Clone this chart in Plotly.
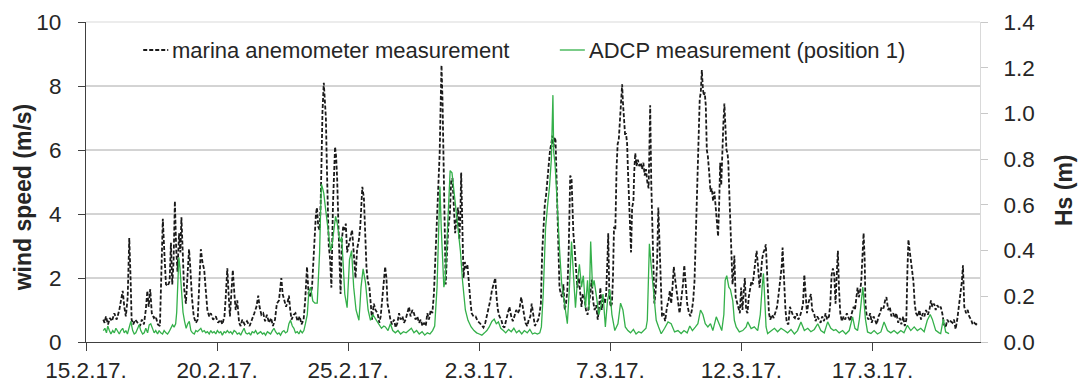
import pandas as pd
import plotly.graph_objects as go

# ---------------- data ----------------
start_date = "2017-02-15"          # day 0 of the time axis
x_end_day = 34.1                   # right end of the time axis (days after start)
tick_days = [0, 5, 10, 15, 20, 25, 30]
tick_labels = ["15.2.17.", "20.2.17.", "25.2.17.", "2.3.17.", "7.3.17.", "12.3.17.", "17.3.17."]
wind_ticks = [0, 2, 4, 6, 8, 10]
hs_ticks = [0.0, 0.2, 0.4, 0.6, 0.8, 1.0, 1.2, 1.4]

# marina anemometer: time (days after 15.2.17.) and wind speed (m/s)
wind_day = [
    0.66, 0.71, 0.76, 0.84, 0.91, 0.99, 1.08, 1.17, 1.27, 1.33, 1.40, 1.46, 1.52, 1.59, 1.65, 1.70, 1.74, 1.80, 1.88, 1.97,
    2.06, 2.13, 2.21, 2.28, 2.34, 2.39, 2.45, 2.51, 2.59, 2.66, 2.74, 2.82, 2.87, 2.93, 3.00, 3.05, 3.12, 3.19, 3.24, 3.29,
    3.34, 3.39, 3.44, 3.49, 3.55, 3.60, 3.64, 3.69, 3.74, 3.81, 3.87, 3.93, 3.98, 4.04, 4.11, 4.19, 4.26, 4.31, 4.38, 4.44,
    4.51, 4.57, 4.63, 4.70, 4.76, 4.85, 4.95, 5.04, 5.13, 5.20, 5.28, 5.33, 5.39, 5.44, 5.49, 5.55, 5.60, 5.66,
    5.71, 5.77, 5.84, 5.90, 5.96, 6.05, 6.14, 6.24, 6.34, 6.42, 6.50, 6.57, 6.62, 6.69, 6.76, 6.83, 6.90, 6.98, 7.06, 7.13,
    7.21, 7.28, 7.36, 7.41, 7.45, 7.50, 7.56, 7.63, 7.69, 7.74, 7.79, 7.84, 7.92, 7.99, 8.07, 8.15, 8.22, 8.30, 8.36, 8.43,
    8.49, 8.55, 8.62, 8.67, 8.72, 8.77, 8.81, 8.86, 8.91, 8.95, 8.98, 9.02, 9.07, 9.11, 9.15, 9.19, 9.23, 9.26, 9.31, 9.36,
    9.42, 9.47, 9.50, 9.54, 9.58, 9.63, 9.67, 9.71, 9.76, 9.81, 9.86, 9.91, 9.96, 10.02, 10.09, 10.15, 10.21, 10.28, 10.34, 10.41,
    10.46, 10.51, 10.54, 10.60, 10.65, 10.70, 10.75, 10.81, 10.86, 10.91, 10.98, 11.04, 11.12, 11.19, 11.24, 11.31, 11.36, 11.41,
    11.46, 11.50, 11.55, 11.61, 11.67, 11.75, 11.81, 11.88, 11.94, 12.00, 12.07, 12.13, 12.19, 12.26, 12.32, 12.38, 12.45, 12.51, 12.57, 12.64,
    12.70, 12.77, 12.83, 12.89, 12.96, 13.02, 13.08, 13.15, 13.21, 13.27, 13.32, 13.36, 13.41, 13.45, 13.49, 13.53, 13.56, 13.60, 13.64, 13.68,
    13.72, 13.77, 13.82, 13.88, 13.93, 13.98, 14.03, 14.08, 14.14, 14.19, 14.24, 14.28, 14.31, 14.35, 14.40, 14.45, 14.50, 14.55, 14.61, 14.66,
    14.71, 14.78, 14.86, 14.94, 15.01, 15.09, 15.16, 15.23, 15.29, 15.35, 15.42, 15.48, 15.54, 15.61, 15.66, 15.71, 15.77, 15.84, 15.90, 15.96,
    16.03, 16.09, 16.15, 16.22, 16.28, 16.34, 16.41, 16.47, 16.53, 16.60, 16.65, 16.70, 16.76, 16.83, 16.89, 16.95, 17.00, 17.07,
    17.12, 17.18, 17.25, 17.30, 17.35, 17.40, 17.45, 17.50, 17.55, 17.60, 17.65, 17.70, 17.75, 17.79, 17.83, 17.87, 17.91, 17.94, 17.98, 18.02,
    18.06, 18.11, 18.16, 18.21, 18.26, 18.31, 18.36, 18.41, 18.47, 18.52, 18.55, 18.59, 18.64, 18.69, 18.74, 18.80, 18.85, 18.90, 18.95, 19.01,
    19.07, 19.13, 19.19, 19.24, 19.29, 19.34, 19.40, 19.46, 19.52, 19.57, 19.62, 19.67, 19.72, 19.79, 19.84, 19.89, 19.92, 19.96, 20.01, 20.06,
    20.10, 20.14, 20.19, 20.24, 20.28, 20.32, 20.37, 20.41, 20.45, 20.48, 20.52, 20.56, 20.60, 20.64, 20.67, 20.71, 20.75, 20.79, 20.83, 20.88,
    20.91, 20.95, 21.00, 21.05, 21.10, 21.16, 21.21, 21.26, 21.31, 21.36, 21.41, 21.46, 21.50, 21.52, 21.56, 21.60, 21.64, 21.68, 21.73, 21.78,
    21.83, 21.87, 21.92, 21.97, 22.03, 22.09, 22.16, 22.22, 22.27, 22.32, 22.37, 22.42, 22.48, 22.53, 22.58, 22.64, 22.70, 22.77, 22.82,
    22.88, 22.93, 23.00, 23.06, 23.11, 23.16, 23.21, 23.26, 23.30, 23.34, 23.38, 23.41, 23.45, 23.49, 23.53, 23.57, 23.60, 23.64, 23.68, 23.72,
    23.77, 23.82, 23.87, 23.92, 23.97, 24.02, 24.07, 24.11, 24.15, 24.19, 24.23, 24.28, 24.31, 24.35, 24.39, 24.43, 24.47, 24.50, 24.54, 24.58,
    24.62, 24.66, 24.70, 24.73, 24.78, 24.84, 24.89, 24.94, 24.99, 25.04, 25.09, 25.13, 25.18, 25.23, 25.28, 25.33, 25.38, 25.43, 25.48, 25.53,
    25.58, 25.63, 25.69, 25.74, 25.79, 25.84, 25.89, 25.93, 25.96, 26.00, 26.05, 26.10, 26.17, 26.23, 26.29, 26.36, 26.42, 26.48, 26.54, 26.57,
    26.62, 26.68, 26.73, 26.79, 26.85, 26.92, 26.98, 27.04, 27.11, 27.17, 27.23, 27.30, 27.35, 27.40, 27.45, 27.50, 27.55, 27.60, 27.65, 27.70,
    27.77, 27.83, 27.89, 27.96, 28.02, 28.08, 28.15, 28.21, 28.27, 28.34, 28.39, 28.44, 28.49,
    28.54, 28.59, 28.64, 28.68, 28.72, 28.77, 28.83, 28.90, 28.96, 29.02, 29.09, 29.15, 29.21, 29.28, 29.33, 29.38, 29.43, 29.48, 29.53, 29.57,
    29.61, 29.66, 29.70, 29.73, 29.78, 29.85, 29.91, 29.97, 30.04, 30.10, 30.16, 30.23, 30.29, 30.35, 30.42, 30.48, 30.53, 30.60, 30.66, 30.72,
    30.79, 30.85, 30.91, 30.98, 31.04, 31.10, 31.17, 31.23, 31.29, 31.33, 31.37, 31.41, 31.46, 31.51, 31.56, 31.61, 31.66, 31.73, 31.79, 31.85,
    31.92, 31.98, 32.04, 32.11, 32.17, 32.23, 32.28, 32.35, 32.41, 32.47, 32.54, 32.60, 32.66, 32.73, 32.79, 32.85, 32.92, 32.98, 33.05, 33.11,
    33.17, 33.24, 33.30, 33.36, 33.41, 33.45, 33.50, 33.57, 33.63, 33.69, 33.76, 33.82, 33.88, 33.95, 34.00,
]
wind_speed = [
    0.7, 0.6, 0.8, 0.55, 0.75, 0.65, 0.9, 0.7, 1.0, 1.3, 1.6, 1.1, 0.8, 1.4, 3.25, 2.0, 0.7, 0.55, 0.7, 0.6,
    0.5, 0.7, 0.55, 1.0, 1.6, 1.1, 1.65, 0.9, 0.75, 0.8, 0.55, 0.5, 1.8, 3.85, 2.6, 1.8, 1.75, 1.9, 3.1, 1.8,
    2.5, 4.4, 2.9, 2.2, 3.4, 2.8, 3.9, 2.6, 1.7, 1.2, 1.9, 2.9, 2.3, 1.4, 0.8, 0.6, 0.7, 1.5, 2.9, 2.5,
    2.25, 1.6, 1.0, 0.8, 0.9, 0.7, 0.8, 0.6, 0.7, 0.55, 0.8, 1.4, 2.3, 1.5, 0.8, 1.6, 2.25, 1.5,
    1.0, 1.3, 0.6, 0.5, 0.7, 0.55, 0.65, 0.5, 0.7, 0.9, 1.1, 1.45, 1.1, 0.85, 0.9, 0.65, 0.85, 0.6, 0.75, 0.5,
    0.7, 1.2, 1.3, 1.6, 2.0, 1.5, 1.3, 1.1, 1.25, 1.45, 1.0, 0.7, 0.85, 0.9, 0.65, 0.8, 0.55, 0.7, 1.3, 2.35,
    1.5, 1.4, 1.7, 2.5, 3.2, 4.0, 4.2, 3.6, 3.5, 4.3, 5.5, 7.2, 8.1, 7.6, 7.0, 5.4, 3.6, 3.0, 2.6, 1.7,
    4.3, 5.9, 6.1, 5.8, 5.1, 3.6, 2.4, 1.5, 3.2, 3.6, 3.5, 3.7, 2.8, 3.0, 3.3, 3.5, 2.8, 2.0, 2.9, 3.2,
    3.6, 4.5, 4.85, 4.5, 3.4, 2.3, 1.9, 1.7, 1.2, 0.7, 1.2, 1.0, 0.9, 0.6, 0.8, 1.5, 1.8, 2.35,
    2.0, 1.2, 1.0, 0.7, 0.55, 0.7, 0.45, 0.6, 0.9, 0.7, 0.8, 0.6, 0.7, 0.9, 1.1, 0.8, 1.0, 0.9, 0.7, 0.8,
    0.6, 0.7, 0.5, 0.6, 0.5, 0.9, 0.7, 1.0, 0.9, 1.5, 2.5, 3.3, 3.8, 4.6, 5.9, 7.5, 8.65, 7.5, 5.4, 2.8,
    1.8, 2.8, 3.6, 4.0, 5.1, 5.1, 4.3, 3.4, 3.9, 4.2, 3.2, 4.0, 5.3, 3.8, 2.0, 2.5, 2.3, 2.4, 1.7, 1.3,
    0.9, 0.8, 0.8, 0.65, 0.6, 0.5, 0.45, 0.6, 0.8, 1.0, 1.3, 1.6, 1.8, 2.0, 1.4, 1.0, 0.8, 0.7, 0.5, 0.45,
    0.7, 0.9, 1.1, 0.8, 0.65, 0.8, 1.0, 0.9, 1.0, 1.4, 1.1, 0.8, 0.6, 0.5, 0.7, 0.8, 1.2, 0.8,
    0.5, 0.6, 0.7, 0.9, 1.2, 2.8, 3.6, 4.3, 4.6, 5.1, 5.6, 6.0, 6.2, 6.45, 6.1, 6.4, 6.3, 5.3, 3.8, 2.5,
    1.7, 1.5, 1.4, 1.8, 1.0, 1.2, 1.6, 2.8, 5.2, 5.1, 4.0, 3.4, 2.9, 2.2, 1.7, 2.0, 1.5, 1.1, 1.5, 1.4,
    1.0, 0.85, 1.2, 1.6, 1.95, 1.3, 1.0, 1.15, 0.7, 1.1, 1.7, 1.0, 1.4, 1.2, 1.5, 2.6, 3.4, 1.5, 1.1, 1.2,
    2.0, 3.6, 3.5, 5.5, 6.2, 6.3, 7.0, 7.6, 8.05, 7.5, 7.0, 6.5, 6.5, 6.2, 5.4, 4.4, 3.4, 2.8, 4.2, 4.4,
    5.3, 5.9, 5.5, 5.7, 5.5, 5.6, 5.4, 5.6, 5.2, 5.4, 5.0, 4.8, 6.5, 7.4, 5.0, 3.6, 2.6, 1.2, 1.6, 2.4,
    4.2, 3.2, 2.0, 0.8, 0.9, 0.65, 1.1, 1.3, 1.6, 1.2, 1.7, 2.35, 1.9, 1.6, 1.2, 0.9, 1.3, 1.8, 2.4,
    1.8, 1.2, 0.9, 0.8, 1.0, 1.3, 1.9, 3.5, 4.8, 5.9, 7.2, 7.6, 7.8, 8.5, 7.9, 7.7, 7.8, 7.4, 6.0, 5.8,
    5.3, 4.7, 4.8, 4.4, 4.7, 4.2, 3.7, 3.3, 4.3, 5.6, 4.9, 6.4, 6.8, 7.45, 6.6, 6.0, 5.9, 5.6, 4.6, 3.6,
    2.8, 1.8, 2.2, 2.7, 1.4, 1.2, 1.1, 0.9, 1.7, 1.0, 1.6, 2.0, 1.0, 0.9, 1.4, 1.6, 1.9, 1.8, 2.2, 2.5,
    2.85, 2.4, 1.7, 2.1, 2.6, 2.8, 2.9, 3.05, 2.5, 1.6, 0.9, 0.7, 0.85, 0.75, 0.9, 1.1, 1.5, 1.9, 2.4, 2.95,
    1.8, 1.0, 0.6, 0.55, 1.1, 0.9, 0.8, 0.75, 0.9, 0.7, 0.8, 1.0, 1.2, 2.1, 1.4, 0.9, 1.2, 1.4, 1.5, 1.0,
    0.9, 0.65, 0.8, 0.7, 0.6, 0.8, 0.65, 0.9, 0.7, 0.8, 1.2, 2.1, 2.3,
    2.1, 1.2, 2.2, 2.85, 1.7, 0.9, 0.65, 0.8, 0.7, 0.9, 0.75, 0.65, 0.9, 1.1, 1.0, 1.4, 1.7, 1.4, 1.6, 1.9,
    2.8, 3.4, 2.6, 1.2, 0.8, 0.7, 0.9, 0.6, 0.8, 0.7, 0.55, 0.8, 0.9, 1.1, 1.05, 1.3, 1.4, 1.0, 1.1, 0.8,
    0.9, 0.75, 0.9, 0.6, 0.75, 0.55, 0.8, 0.5, 0.7, 2.2, 3.2, 2.9, 2.6, 2.3, 1.9, 1.2, 0.9, 0.8, 1.0, 0.7,
    0.9, 0.8, 1.0, 0.85, 1.0, 1.3, 1.1, 1.2, 1.0, 1.15, 1.05, 1.1, 0.9, 0.55, 0.45, 0.7, 0.6, 0.65, 0.6, 0.7,
    0.4, 0.75, 1.1, 1.6, 1.9, 2.4, 1.1, 0.9, 1.0, 0.8, 0.7, 0.55, 0.6, 0.55, 0.6,
]

# ADCP (position 1): time (days after 15.2.17.) and significant wave height Hs (m)
adcp_day = [
    0.66, 0.72, 0.78, 0.83, 0.89, 0.95, 1.02, 1.08, 1.14, 1.21, 1.27, 1.33, 1.40, 1.46, 1.52, 1.58, 1.65, 1.71, 1.78, 1.84,
    1.90, 1.97, 2.03, 2.09, 2.16, 2.22, 2.28, 2.35, 2.41, 2.47, 2.54, 2.60, 2.66, 2.73, 2.79, 2.85, 2.92, 2.98, 3.05, 3.11,
    3.17, 3.24, 3.30, 3.36, 3.42, 3.46, 3.50, 3.54, 3.58, 3.62, 3.66, 3.70, 3.76, 3.82, 3.88, 3.94, 4.00, 4.06, 4.13, 4.19,
    4.25, 4.32, 4.38, 4.44, 4.51, 4.57, 4.63, 4.70, 4.76, 4.82, 4.89, 4.95, 5.01, 5.08, 5.14, 5.20, 5.27, 5.33, 5.39, 5.46,
    5.52, 5.58, 5.65,
    5.71, 5.77, 5.84, 5.90, 5.96, 6.03, 6.09, 6.15, 6.22, 6.28, 6.34, 6.41, 6.47, 6.54, 6.60, 6.66, 6.73, 6.79, 6.85, 6.92,
    6.98, 7.04, 7.11, 7.17, 7.23, 7.30, 7.36, 7.42, 7.49, 7.55, 7.61, 7.68, 7.74, 7.80, 7.87, 7.93, 7.99, 8.06, 8.12, 8.18,
    8.25, 8.31, 8.37, 8.44, 8.50, 8.57, 8.65, 8.73, 8.82, 8.87, 8.91, 8.95, 8.98, 9.03, 9.07, 9.12, 9.16, 9.21, 9.26, 9.33,
    9.38, 9.42, 9.47, 9.52, 9.58, 9.63, 9.67, 9.71, 9.75, 9.80, 9.87, 9.96, 10.01, 10.05, 10.13, 10.21, 10.30, 10.41, 10.45, 10.49,
    10.57, 10.66, 10.76, 10.85, 10.94, 11.04, 11.14, 11.27, 11.36,
    11.42, 11.52, 11.61, 11.70, 11.80, 11.90, 12.00, 12.11, 12.21, 12.31, 12.41, 12.51, 12.61, 12.71, 12.82, 12.92, 13.02, 13.12, 13.22, 13.30,
    13.39, 13.45, 13.50, 13.55, 13.60, 13.65, 13.70, 13.77, 13.83, 13.89, 13.96, 14.02, 14.08, 14.19, 14.28, 14.36, 14.47, 14.57, 14.69, 14.80,
    14.90, 15.00, 15.10, 15.20, 15.29, 15.38, 15.48, 15.57, 15.65, 15.73, 15.82, 15.92, 16.01, 16.12, 16.22, 16.32, 16.42, 16.52, 16.62, 16.72,
    16.83, 16.93, 17.03,
    17.12, 17.22, 17.31, 17.37, 17.44, 17.53, 17.60, 17.68, 17.75, 17.81, 17.84, 17.89, 17.94, 18.01, 18.07, 18.14, 18.21, 18.29, 18.36, 18.44,
    18.52, 18.59, 18.67, 18.74, 18.82, 18.90, 18.97, 19.05, 19.13, 19.19, 19.25, 19.32, 19.38, 19.47, 19.56, 19.63, 19.72, 19.81, 19.89, 19.98,
    20.06, 20.17, 20.29, 20.39, 20.48, 20.57, 20.67, 20.77, 20.88, 20.98, 21.08, 21.18, 21.28, 21.36, 21.41, 21.49, 21.56, 21.63, 21.69, 21.75,
    21.84, 21.94, 22.07, 22.20, 22.32, 22.45, 22.58, 22.70, 22.81,
    22.93, 23.03, 23.13, 23.24, 23.34, 23.44, 23.53, 23.62, 23.72, 23.82, 23.91, 24.04, 24.16, 24.25, 24.33, 24.38, 24.44, 24.52, 24.58, 24.67,
    24.73, 24.80, 24.92, 25.05, 25.18, 25.24, 25.37, 25.49, 25.62, 25.72, 25.79, 25.84, 25.88, 25.94, 26.00, 26.13, 26.26, 26.38, 26.51, 26.64,
    26.76, 26.89, 27.02, 27.14, 27.27, 27.40, 27.53, 27.65, 27.78, 27.91, 28.03, 28.16, 28.29, 28.41, 28.52,
    28.60, 28.73, 28.86, 28.98, 29.11, 29.24, 29.33, 29.43, 29.50, 29.56, 29.63, 29.68, 29.73, 29.81, 29.94, 30.06, 30.19, 30.32, 30.44, 30.57,
    30.70, 30.82, 30.95, 31.08, 31.20, 31.33, 31.46, 31.59, 31.71, 31.84, 31.97, 32.09, 32.20, 32.28, 32.41, 32.54, 32.60, 32.70, 32.79, 32.92,
]
adcp_hs = [
    0.05, 0.06, 0.04, 0.07, 0.05, 0.035, 0.05, 0.04, 0.06, 0.045, 0.035, 0.05, 0.06, 0.04, 0.05, 0.035, 0.07, 0.09, 0.05, 0.035,
    0.04, 0.06, 0.075, 0.05, 0.035, 0.04, 0.06, 0.04, 0.075, 0.08, 0.06, 0.04, 0.05, 0.035, 0.05, 0.04, 0.035, 0.05, 0.04, 0.035,
    0.045, 0.06, 0.075, 0.065, 0.08, 0.13, 0.25, 0.37, 0.33, 0.27, 0.19, 0.13, 0.09, 0.06, 0.08, 0.09, 0.05, 0.04, 0.035, 0.05,
    0.045, 0.055, 0.06, 0.045, 0.05, 0.04, 0.045, 0.035, 0.05, 0.04, 0.045, 0.035, 0.05, 0.04, 0.045, 0.03, 0.045, 0.04, 0.05, 0.04,
    0.045, 0.035, 0.05,
    0.045, 0.035, 0.04, 0.03, 0.045, 0.06, 0.04, 0.035, 0.04, 0.03, 0.045, 0.04, 0.05, 0.035, 0.04, 0.045, 0.035, 0.04, 0.03, 0.045,
    0.04, 0.035, 0.05, 0.06, 0.045, 0.035, 0.04, 0.03, 0.045, 0.05, 0.04, 0.045, 0.08, 0.095, 0.07, 0.06, 0.04, 0.045, 0.035, 0.05,
    0.04, 0.05, 0.08, 0.12, 0.22, 0.24, 0.18, 0.17, 0.17, 0.28, 0.39, 0.58, 0.69, 0.67, 0.65, 0.60, 0.56, 0.50, 0.46, 0.40,
    0.42, 0.46, 0.52, 0.55, 0.52, 0.48, 0.45, 0.44, 0.46, 0.36, 0.21, 0.15, 0.25, 0.36, 0.40, 0.24, 0.14, 0.095, 0.16, 0.24,
    0.32, 0.26, 0.14, 0.095, 0.12, 0.10, 0.08, 0.06, 0.07,
    0.066, 0.05, 0.08, 0.05, 0.04, 0.05, 0.035, 0.045, 0.04, 0.05, 0.06, 0.04, 0.05, 0.035, 0.045, 0.03, 0.04, 0.035, 0.05, 0.07,
    0.24, 0.48, 0.68, 0.50, 0.39, 0.24, 0.27, 0.46, 0.64, 0.75, 0.74, 0.68, 0.61, 0.50, 0.40, 0.27, 0.14, 0.095, 0.066, 0.05,
    0.04, 0.035, 0.03, 0.04, 0.05, 0.066, 0.09, 0.10, 0.08, 0.088, 0.06, 0.05, 0.04, 0.055, 0.045, 0.06, 0.04, 0.05, 0.035, 0.05,
    0.04, 0.055, 0.035,
    0.04, 0.035, 0.04, 0.066, 0.21, 0.50, 0.59, 0.68, 0.80, 1.08, 0.83, 0.78, 0.68, 0.50, 0.39, 0.26, 0.20, 0.14, 0.08, 0.24,
    0.44, 0.30, 0.15, 0.26, 0.34, 0.24, 0.29, 0.15, 0.27, 0.14, 0.44, 0.24, 0.27, 0.20, 0.12, 0.15, 0.21, 0.066, 0.18, 0.23,
    0.12, 0.05, 0.08, 0.17, 0.14, 0.066, 0.05, 0.04, 0.055, 0.035, 0.045, 0.04, 0.05, 0.06, 0.095, 0.43, 0.33, 0.24, 0.14, 0.095,
    0.066, 0.036, 0.06, 0.088, 0.08, 0.044, 0.05, 0.037, 0.05,
    0.04, 0.07, 0.05, 0.065, 0.08, 0.14, 0.12, 0.08, 0.066, 0.08, 0.05, 0.11, 0.08, 0.05, 0.12, 0.27, 0.29, 0.24, 0.23, 0.18,
    0.095, 0.066, 0.044, 0.05, 0.066, 0.088, 0.059, 0.066, 0.05, 0.12, 0.24, 0.30, 0.21, 0.066, 0.037, 0.05, 0.06, 0.045, 0.06, 0.05,
    0.04, 0.055, 0.035, 0.05, 0.088, 0.05, 0.06, 0.045, 0.055, 0.08, 0.05, 0.04, 0.088, 0.06, 0.05,
    0.055, 0.04, 0.05, 0.035, 0.05, 0.11, 0.06, 0.05, 0.10, 0.17, 0.24, 0.17, 0.10, 0.044, 0.037, 0.05, 0.035, 0.044, 0.088, 0.05,
    0.04, 0.05, 0.037, 0.05, 0.04, 0.073, 0.05, 0.066, 0.05, 0.06, 0.045, 0.095, 0.12, 0.10, 0.051, 0.04, 0.037, 0.10, 0.044, 0.037,
]

wind_name = "marina anemometer measurement"
adcp_name = "ADCP measurement (position 1)"
assert len(wind_day) == len(wind_speed)
assert len(adcp_day) == len(adcp_hs)

# ---------------- figure ----------------
base = pd.Timestamp(start_date)


def to_time(days):
    return base + pd.to_timedelta(days, unit="D")


FONT = "Liberation Sans, Arial, sans-serif"
TXT = "#262626"
AXIS = "#404040"
GRID = "#a8a8a8"
LIGHT = "#d9d9d9"
GREEN = "#34b04a"
WIND_DASH = "4px,2px"

fig = go.Figure()
fig.add_trace(go.Scatter(
    x=to_time(wind_day), y=wind_speed, name=wind_name, mode="lines",
    line=dict(color="#1a1a1a", width=1.8, dash=WIND_DASH), yaxis="y",
))
fig.add_trace(go.Scatter(
    x=to_time(adcp_day), y=adcp_hs, name=adcp_name, mode="lines",
    line=dict(color=GREEN, width=1.3), yaxis="y2",
))

shapes = []
for v in wind_ticks[1:-1]:
    shapes.append(dict(type="line", xref="paper", x0=0, x1=1, yref="y", y0=v, y1=v,
                       line=dict(color=GRID, width=1), layer="below"))
shapes.append(dict(type="line", xref="paper", x0=0, x1=1, yref="paper", y0=1, y1=1,
                   line=dict(color=LIGHT, width=1), layer="below"))
# legend samples
shapes.append(dict(type="line", xref="paper", yref="paper", x0=0.064, x1=0.092, y0=0.9125, y1=0.9125,
                   line=dict(color="#1a1a1a", width=1.8, dash=WIND_DASH)))
shapes.append(dict(type="line", xref="paper", yref="paper", x0=0.530, x1=0.558, y0=0.9125, y1=0.9125,
                   line=dict(color=GREEN, width=1.3)))

annotations = [
    dict(text=wind_name, xref="paper", yref="paper", x=0.094, y=0.9125, xanchor="left", yanchor="middle",
         showarrow=False, font=dict(family=FONT, size=22, color=TXT)),
    dict(text=adcp_name, xref="paper", yref="paper", x=0.560, y=0.9125, xanchor="left", yanchor="middle",
         showarrow=False, font=dict(family=FONT, size=22, color=TXT)),
    dict(text="<b>wind speed (m/s)</b>", xref="paper", yref="paper", x=-0.0705, y=0.452,
         xanchor="center", yanchor="middle", textangle=-90, showarrow=False,
         font=dict(family=FONT, size=23, color=TXT)),
    dict(text="<b>Hs (m)</b>", xref="paper", yref="paper", x=1.094, y=0.475,
         xanchor="center", yanchor="middle", textangle=-90, showarrow=False,
         font=dict(family=FONT, size=23, color=TXT)),
]

fig.update_layout(
    width=1078, height=385,
    margin=dict(l=86, r=98, t=22, b=43, autoexpand=False),
    paper_bgcolor="white", plot_bgcolor="white",
    showlegend=False,
    font=dict(family=FONT, size=22, color=TXT),
    shapes=shapes, annotations=annotations,
    xaxis=dict(
        type="date", range=[to_time(0), to_time(x_end_day)], automargin=False,
        tickmode="array", tickvals=list(to_time(tick_days)), ticktext=tick_labels,
        ticks="outside", ticklen=8, tickcolor=AXIS, tickwidth=1,
        showline=True, linecolor=AXIS, linewidth=1.2,
        showgrid=False, zeroline=False,
        tickfont=dict(family=FONT, size=22.5, color=TXT), ticklabelstandoff=0,
    ),
    yaxis=dict(
        range=[0, 10], tickmode="array", tickvals=wind_ticks, automargin=False,
        ticks="outside", ticklen=7, tickcolor=AXIS, tickwidth=1,
        showline=True, linecolor=AXIS, linewidth=1.2,
        showgrid=False, zeroline=False,
        tickfont=dict(family=FONT, size=22.5, color=TXT), ticklabelstandoff=12,
    ),
    yaxis2=dict(
        overlaying="y", side="right", automargin=False,
        range=[0, 1.4], tickmode="array", tickvals=hs_ticks, tickformat=".1f",
        ticks="outside", ticklen=7, tickcolor="#c8c8c8", tickwidth=1,
        showline=True, linecolor=LIGHT, linewidth=1,
        showgrid=False, zeroline=False,
        tickfont=dict(family=FONT, size=22.5, color=TXT), ticklabelstandoff=11,
    ),
)

fig.write_html("out.html")
